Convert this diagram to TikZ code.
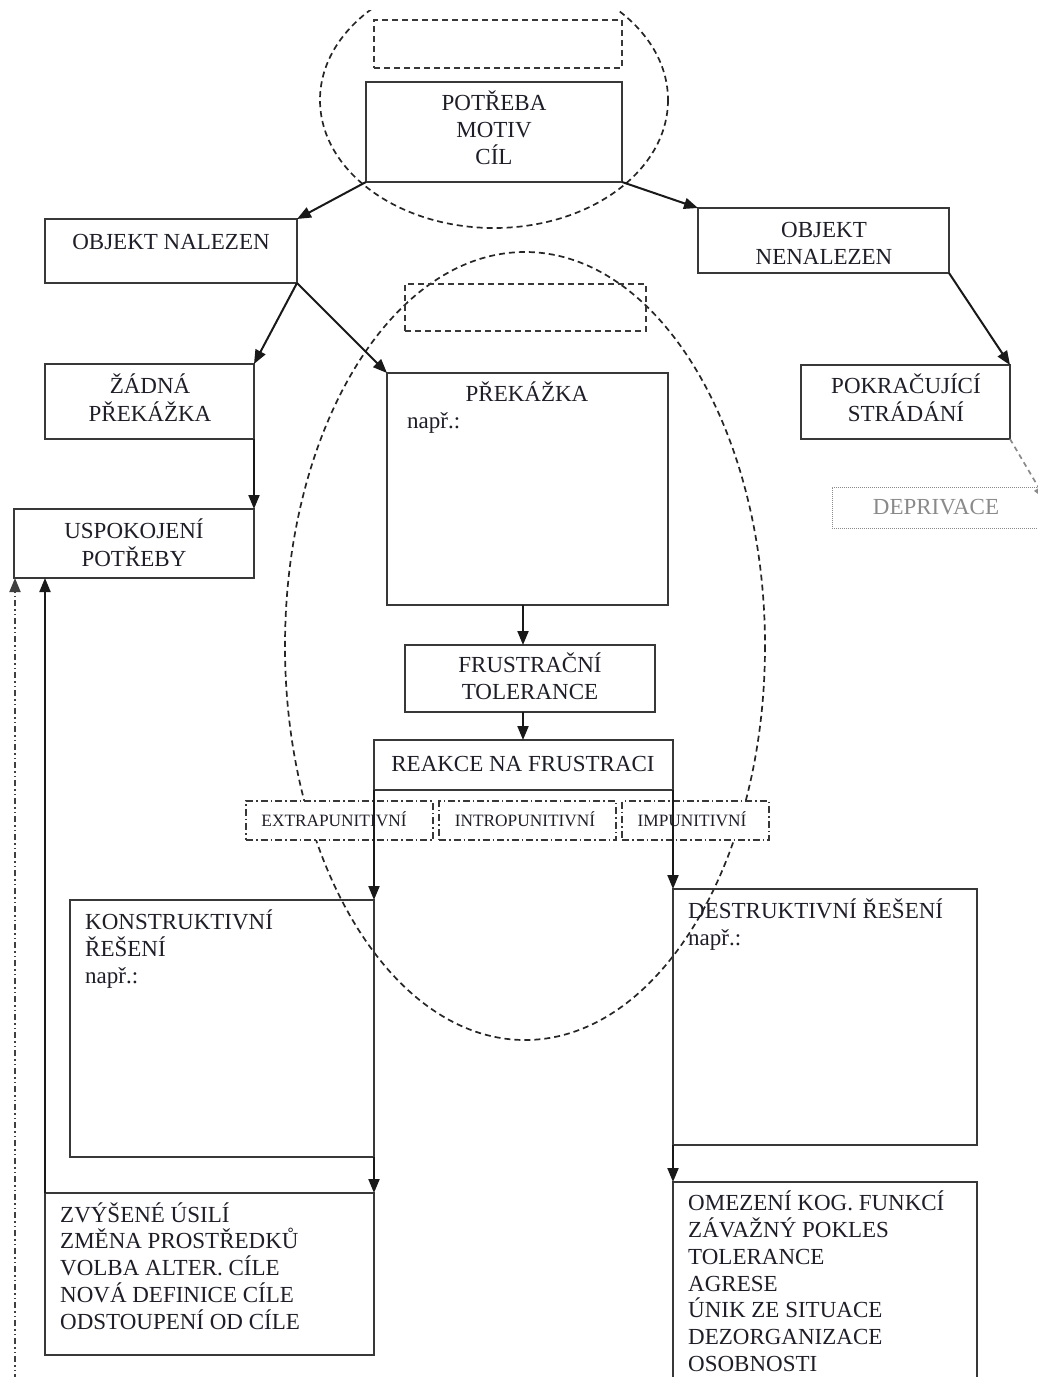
\documentclass[tikz,border=0pt]{standalone}
\usepackage{fontspec}
\setmainfont{Liberation Serif}
\usetikzlibrary{arrows.meta}
\definecolor{boxc}{HTML}{383838}
\definecolor{txtc}{HTML}{1E1E28}
\definecolor{grayc}{HTML}{8A8A8A}
\begin{document}
\begin{tikzpicture}[x=1pt,y=-1pt,
  box/.style={draw=boxc, line width=1.6pt, inner sep=0pt, outer sep=0pt, anchor=north west},
  dbox/.style={draw=boxc, line width=1.6pt, dash pattern=on 6pt off 4pt, inner sep=0pt, outer sep=0pt, anchor=north west},
  ddbox/.style={draw=boxc, fill=white, line width=1.5pt, dash pattern=on 7pt off 3pt on 1.5pt off 3pt, inner sep=0pt, outer sep=0pt, anchor=north west},
  ell/.style={draw=black!85, line width=1.7pt, dash pattern=on 6pt off 4pt},
  txt/.style={font=\fontsize{23}{27}\selectfont, text=txtc, inner sep=0pt, anchor=base},
  ltxt/.style={font=\fontsize{23}{26.75}\selectfont, text=txtc, inner sep=0pt, anchor=base west, align=left},
  stxt/.style={font=\fontsize{17.3}{20}\selectfont, text=txtc, inner sep=0pt, anchor=base},
  tip/.style={-{Triangle[length=14pt,width=11pt]}},
  arr/.style={draw=black!90, line width=2pt, tip},
]
\clip (0,0) rectangle (1038,1377);
\useasboundingbox (0,0) rectangle (1038,1377);

% ellipses
\begin{scope}
  \clip (300,10) rectangle (700,240);
  \draw[ell] (494,100) ellipse [x radius=174, y radius=128];
\end{scope}
\draw[ell] (525,646) ellipse [x radius=240, y radius=394];

% top
\node[dbox, minimum width=248pt, minimum height=48pt] (topd) at (374,20) {};
\node[box, minimum width=256pt, minimum height=100pt] (need) at (366,82) {};
\node[txt, align=center] (needT) at (494,164) {POTŘEBA\\MOTIV\\CÍL};

\node[box, minimum width=252pt, minimum height=64pt] (found) at (45,219) {};
\node[txt] (foundT) at (171,249) {OBJEKT NALEZEN};

\node[box, minimum width=251pt, minimum height=65pt] (nfound) at (698,208) {};
\node[txt, align=center] (nfoundT) at (824,264) {OBJEKT\\NENALEZEN};

\node[box, minimum width=209pt, minimum height=75pt] (noobst) at (45,364) {};
\node[txt, align=center, font=\fontsize{23}{28}\selectfont] (noobstT) at (150,421) {ŽÁDNÁ\\PŘEKÁŽKA};

\node[box, minimum width=240pt, minimum height=69pt] (sat) at (14,509) {};
\node[txt, align=center, font=\fontsize{23}{28}\selectfont] (satT) at (134,566) {USPOKOJENÍ\\POTŘEBY};

\node[box, minimum width=209pt, minimum height=74pt] (cont) at (801,365) {};
\node[txt, align=center, font=\fontsize{23}{28}\selectfont] (contT) at (906,421) {POKRAČUJÍCÍ\\STRÁDÁNÍ};

\node[draw=grayc, line width=1pt, dash pattern=on 1pt off 1pt, inner sep=0pt, outer sep=0pt, anchor=north west, minimum width=220pt, minimum height=41pt] (depr) at (832,487) {};
\node[txt, text=grayc] (deprT) at (936,514) {DEPRIVACE};

% middle
\node[dbox, minimum width=241pt, minimum height=47pt] (midd) at (405,284) {};
\node[box, minimum width=281pt, minimum height=232pt] (obst) at (387,373) {};
\node[txt] (obstT) at (527,401) {PŘEKÁŽKA};
\node[ltxt] (obstN) at (407,428) {např.:};

\node[box, minimum width=250pt, minimum height=67pt] (tol) at (405,645) {};
\node[txt, align=center] (tolT) at (530,699) {FRUSTRAČNÍ\\TOLERANCE};

\node[box, minimum width=299pt, minimum height=50pt] (react) at (374,740) {};
\node[txt] (reactT) at (523,771) {REAKCE NA FRUSTRACI};

\node[ddbox, minimum width=187pt, minimum height=39pt] (extra) at (246,801) {};
\node[ddbox, minimum width=177pt, minimum height=39pt] (intro) at (439,801) {};
\node[ddbox, minimum width=147pt, minimum height=39pt] (impu) at (622,801) {};
\node[stxt] (extraT) at (334,826) {EXTRAPUNITIVNÍ};
\node[stxt] (introT) at (525,826) {INTROPUNITIVNÍ};
\node[stxt] (impuT) at (692,826) {IMPUNITIVNÍ};

% bottom
\node[box, minimum width=304pt, minimum height=257pt] (kons) at (70,900) {};
\node[ltxt, font=\fontsize{23}{27}\selectfont] (konsT) at (85,983) {KONSTRUKTIVNÍ\\ŘEŠENÍ\\např.:};

\node[box, minimum width=329pt, minimum height=162pt] (zvys) at (45,1193) {};
\node[ltxt] (zvysT) at (60,1329) {ZVÝŠENÉ ÚSILÍ\\ZMĚNA PROSTŘEDKŮ\\VOLBA ALTER. CÍLE\\NOVÁ DEFINICE CÍLE\\ODSTOUPENÍ OD CÍLE};

\node[box, minimum width=304pt, minimum height=256pt] (destr) at (673,889) {};
\node[ltxt, font=\fontsize{23}{27}\selectfont] (destrT) at (688,945) {DESTRUKTIVNÍ ŘEŠENÍ\\např.:};

\node[box, minimum width=304pt, minimum height=230pt] (omez) at (673,1182) {};
\node[ltxt, font=\fontsize{23}{26.67}\selectfont] (omezT) at (688,1371) {OMEZENÍ KOG. FUNKCÍ\\ZÁVAŽNÝ POKLES\\TOLERANCE\\AGRESE\\ÚNIK ZE SITUACE\\DEZORGANIZACE\\OSOBNOSTI};

% connectors
\draw[arr] (need.south west) -- (found.north east);
\draw[arr] (need.south east) -- (nfound.north west);
\draw[arr] (found.south east) -- (noobst.north east);
\draw[arr] (found.south east) -- (obst.north west);
\draw[arr] (noobst.south east) -- (sat.north east);
\draw[arr] (nfound.south east) -- (cont.north east);
\coordinate (deprEnd) at (1046,500);
\draw[draw=grayc, line width=1.7pt, dash pattern=on 5pt off 4pt, tip] (cont.south east) -- (deprEnd);
\draw[arr] (obst.south -| 523,0) -- (tol.north -| 523,0);
\draw[arr] (tol.south -| 523,0) -- (react.north -| 523,0);
\draw[arr] (react.south west) -- (kons.north east);
\draw[arr] (react.south east) -- (destr.north west);
\draw[arr] (kons.south east) -- (zvys.north east);
\draw[arr] (destr.south west) -- (omez.north west);
\draw[arr] (zvys.north west) -- (zvys.north west |- sat.south);
\coordinate (loopStart) at (15,1380);
\draw[draw=black!75, line width=1.8pt, dash pattern=on 6pt off 3pt on 1.5pt off 3pt on 1.5pt off 3pt, tip] (loopStart) -- (loopStart |- sat.south);
\end{tikzpicture}
\end{document}
